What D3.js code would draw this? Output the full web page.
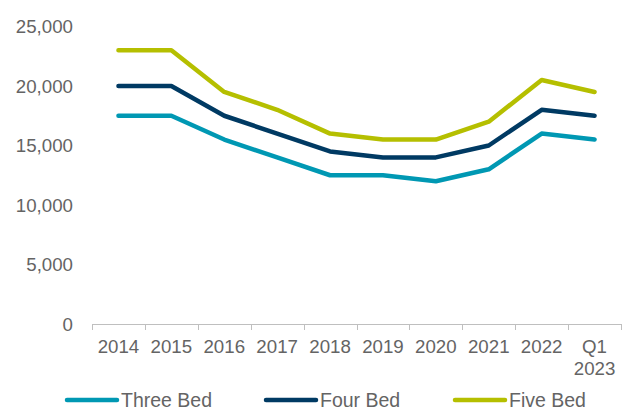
<!DOCTYPE html>
<html>
<head>
<meta charset="utf-8">
<script src="https://cdn.jsdelivr.net/npm/d3@7"></script>
<style>
  body { margin: 0; background: #ffffff; }
  text { font-family: Arial, "Liberation Sans", sans-serif; fill: #646464; }
</style>
</head>
<body>
<div id="chart"></div>
<script>
var categories = ["2014", "2015", "2016", "2017", "2018", "2019", "2020", "2021", "2022", "Q1 2023"];
var threeBed = [17500, 17500, 15500, 14000, 12500, 12500, 12000, 13000, 16000, 15500];
var fourBed = [20000, 20000, 17500, 16000, 14500, 14000, 14000, 15000, 18000, 17500];
var fiveBed = [23000, 23000, 19500, 18000, 16000, 15500, 15500, 17000, 20500, 19500];
var yTicks = [0, 5000, 10000, 15000, 20000, 25000];

var series = [
    { name: "Three Bed", values: threeBed, color: "#0098b3" },
    { name: "Four Bed", values: fourBed, color: "#003a63" },
    { name: "Five Bed", values: fiveBed, color: "#b5bf00" }
];

var width = 622, height = 410;
var margin = { top: 26, right: 0, bottom: 86, left: 92 };

var svg = d3.select("#chart").append("svg")
    .attr("width", width)
    .attr("height", height)
    .style("background-color", "white");

var x = d3.scaleBand()
    .domain(categories)
    .range([margin.left, 622 - 1])
    .padding(0);

var y = d3.scaleLinear()
    .domain([0, 25000])
    .range([324, 26.5]);

// y labels, no axis line
svg.append("g")
    .selectAll("text")
    .data(yTicks)
    .enter()
    .append("text")
    .attr("x", 73)
    .attr("y", function(d) { return y(d); })
    .attr("dy", "0.35em")
    .style("text-anchor", "end")
    .style("font-size", "18.7px")
    .text(function(d) { return d3.format(",")(d); });

// x axis
var xAxis = svg.append("g").attr("class", "x-axis");
xAxis.append("line")
    .attr("x1", x.range()[0])
    .attr("x2", x.range()[1])
    .attr("y1", y(0) + 0.5)
    .attr("y2", y(0) + 0.5)
    .attr("stroke", "#bfbfbf")
    .attr("stroke-width", 1);

xAxis.selectAll("line.tick")
    .data(categories.concat([null]))
    .enter()
    .append("line")
    .attr("class", "tick")
    .attr("x1", function(d, i) { return Math.round(x.range()[0] + i * x.step()) + 0.5; })
    .attr("x2", function(d, i) { return Math.round(x.range()[0] + i * x.step()) + 0.5; })
    .attr("y1", y(0))
    .attr("y2", y(0) + 6)
    .attr("stroke", "#bfbfbf")
    .attr("stroke-width", 1);

var xLabels = xAxis.selectAll("text")
    .data(categories)
    .enter()
    .append("text")
    .attr("x", function(d) { return x(d) + x.bandwidth() / 2; })
    .attr("y", 353)
    .style("text-anchor", "middle")
    .style("font-size", "18.7px");

xLabels.each(function(d) {
    var parts = d.split(" ");
    var t = d3.select(this);
    parts.forEach(function(p, i) {
        t.append("tspan")
            .attr("x", x(d) + x.bandwidth() / 2)
            .attr("dy", i === 0 ? 0 : 22)
            .text(p);
    });
});

// lines
var line = d3.line()
    .x(function(d, i) { return x(categories[i]) + x.bandwidth() / 2; })
    .y(function(d) { return y(d); });

svg.append("g")
    .attr("class", "lines")
    .selectAll("path")
    .data(series)
    .enter()
    .append("path")
    .attr("d", function(d) { return line(d.values); })
    .attr("fill", "none")
    .attr("stroke", function(d) { return d.color; })
    .attr("stroke-width", 4.5)
    .attr("stroke-linejoin", "round")
    .attr("stroke-linecap", "round");

// legend
var legendX = [67, 266, 455];
var legend = svg.append("g")
    .attr("class", "legend")
    .selectAll("g")
    .data(series)
    .enter()
    .append("g")
    .attr("transform", function(d, i) { return "translate(" + legendX[i] + ",400)"; });

legend.append("line")
    .attr("x1", 0)
    .attr("x2", 50)
    .attr("y1", 0)
    .attr("y2", 0)
    .attr("stroke", function(d) { return d.color; })
    .attr("stroke-width", 4.5)
    .attr("stroke-linecap", "round");

legend.append("text")
    .attr("x", 54)
    .attr("y", 0)
    .attr("dy", "0.35em")
    .style("font-size", "19.5px")
    .text(function(d) { return d.name; });
</script>
</body>
</html>
